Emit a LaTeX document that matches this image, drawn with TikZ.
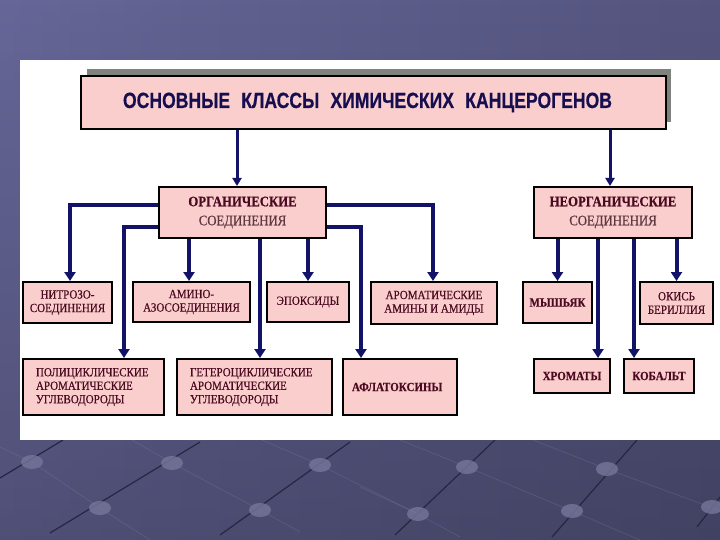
\documentclass[tikz,border=0pt]{standalone}
\usepackage{graphicx}
\usepackage{fontspec}
\setmainfont{Liberation Serif}
\newfontfamily\bxf[FakeStretch=0.88,FakeBold=0.5]{Liberation Serif}
\newfontfamily\ttlf[FakeBold=0.6]{Liberation Sans}
\usetikzlibrary{arrows.meta,fadings}
\definecolor{bgL}{RGB}{102,102,152}
\definecolor{bgR}{RGB}{84,84,126}
\definecolor{boxpink}{RGB}{251,206,206}
\definecolor{navy}{RGB}{18,18,105}
\definecolor{txt}{RGB}{75,10,32}
\definecolor{txtb}{RGB}{95,55,65}
\definecolor{ttl}{RGB}{22,14,78}
\definecolor{shadowgray}{RGB}{128,130,126}
\definecolor{darkln}{RGB}{38,38,66}
\definecolor{lightln}{RGB}{135,135,175}
\definecolor{dotc}{RGB}{118,118,155}
\tikzset{
  box/.style={draw=black, line width=2pt, fill=boxpink, inner sep=0pt,
    font=\bxf\fontsize{12.5}{13.5}\selectfont, text=txt, align=center},
  lbox/.style={box, align=left},
  arr/.style={draw=navy, line width=4pt, line join=miter, -{Triangle[length=9pt,width=11pt]}},
  tarr/.style={draw=navy, line width=3pt, -{Triangle[length=8pt,width=9pt]}},
  dotst/.style={fill=dotc, opacity=0.8},
}
\begin{document}
\begin{tikzpicture}[x=1pt,y=-1pt]
\useasboundingbox (0,0) rectangle (720,540);
% background
\shade[left color=bgL, right color=bgR] (0,0) rectangle (720,540);
\fill[black, opacity=0.22, path fading=north] (0,0) rectangle (720,540);
% decoration: light lines
\begin{scope}[draw=lightln, line width=0.6pt, opacity=0.3]
\draw (0,447) -- (32,462) -- (100,508) -- (150,540);
\draw (132,440) -- (172,463) -- (260,510) -- (300,532);
\draw (262,440) -- (320,465) -- (418,514) -- (460,537);
\draw (400,440) -- (467,467) -- (572,511) -- (640,540);
\draw (533,440) -- (607,469) -- (710,507) -- (720,511);
\draw (360,487) -- (418,514);
\end{scope}
% decoration: dark lines
\begin{scope}[draw=darkln, line width=1.2pt]
\draw (0,478) -- (63,440);
\draw (50,533) -- (200,442);
\draw (220,535) -- (350,442);
\draw (395,535) -- (495,440);
\draw (552,537) -- (637,440);
\draw (697,527) -- (720,497);
\end{scope}
\foreach \p in {(32,462),(172,463),(320,465),(467,467),(607,469),(100,508),(260,510),(418,514),(572,511),(712,507)}
  \fill[dotst] \p ellipse [x radius=11, y radius=7];
% white panel
\fill[white] (20,60) rectangle (720,440);
% title
\fill[shadowgray] (87,69) rectangle (671,122);
\node[box, minimum width=585pt, minimum height=53pt, text=ttl] (title) at (373.5,102.5)
  {\resizebox{489pt}{\height}{\ttlf\bfseries\fontsize{22}{22}\selectfont ОСНОВНЫЕ\hspace{14pt}КЛАССЫ\hspace{14pt}ХИМИЧЕСКИХ\hspace{14pt}КАНЦЕРОГЕНОВ}\hspace*{12pt}};
% level 2
\node[box, minimum width=167pt, minimum height=51pt, font=\bxf\fontsize{14.5}{19}\selectfont] (org) at (242.5,212.5)
  {\bfseries ОРГАНИЧЕСКИЕ\\ \textcolor{txtb}{СОЕДИНЕНИЯ}};
\node[box, minimum width=158pt, minimum height=51pt, font=\bxf\fontsize{14.5}{19}\selectfont] (inorg) at (613,212.5)
  {\bfseries НЕОРГАНИЧЕСКИЕ\\ \textcolor{txtb}{СОЕДИНЕНИЯ}};
% level 3 top row
\node[box, minimum width=89pt, minimum height=41pt] (nitroso) at (67.5,302.5) {НИТРОЗО-\\СОЕДИНЕНИЯ};
\node[box, minimum width=117pt, minimum height=40pt] (amino) at (191.5,302) {АМИНО-\\АЗОСОЕДИНЕНИЯ};
\node[box, minimum width=82pt, minimum height=40pt] (epox) at (308,302) {ЭПОКСИДЫ};
\node[box, minimum width=126pt, minimum height=42pt] (aromam) at (434,303) {АРОМАТИЧЕСКИЕ\\АМИНЫ И АМИДЫ};
\node[box, minimum width=69pt, minimum height=41pt] (mysh) at (557.5,302.5) {\bfseries МЫШЬЯК};
\node[box, minimum width=73pt, minimum height=42pt] (beryl) at (676.5,303) {ОКИСЬ\\БЕРИЛЛИЯ};
% level 3 bottom row
\node[lbox, minimum width=141pt, minimum height=56pt, text width=115pt] (poly) at (93.5,387)
  {ПОЛИЦИКЛИЧЕСКИЕ\\АРОМАТИЧЕСКИЕ\\УГЛЕВОДОРОДЫ};
\node[lbox, minimum width=155pt, minimum height=56pt, text width=129pt] (hetero) at (254.5,387)
  {ГЕТЕРОЦИКЛИЧЕСКИЕ\\АРОМАТИЧЕСКИЕ\\УГЛЕВОДОРОДЫ};
\node[lbox, minimum width=114pt, minimum height=56pt, text width=96pt] (aflat) at (400,387)
  {\bfseries АФЛАТОКСИНЫ};
\node[box, minimum width=76pt, minimum height=34pt] (chrom) at (572,376) {\bfseries ХРОМАТЫ};
\node[box, minimum width=70pt, minimum height=34pt] (cobalt) at (659,376) {\bfseries КОБАЛЬТ};
% connectors from title
\coordinate (t1) at (237,0);
\coordinate (t2) at (610,0);
\draw[tarr] (title.south -| t1) -- (org.north -| t1);
\draw[tarr] (title.south -| t2) -- (inorg.north -| t2);
% connectors from organic
\draw[arr] ([yshift=7.5pt]org.west) -| ([xshift=2.5pt]nitroso.north);
\draw[arr] ([yshift=7.5pt]org.east) -| ([xshift=-1pt]aromam.north);
\draw[arr] ([yshift=-14.5pt]org.west) -| ([xshift=30.5pt]poly.north);
\draw[arr] ([yshift=-14.5pt]org.east) -| ([xshift=-39pt]aflat.north);
\draw[arr] ([xshift=-2.5pt]org.south -| amino.north) -- ([xshift=-2.5pt]amino.north);
\draw[arr] ([xshift=5.5pt]org.south -| hetero.north) -- ([xshift=5.5pt]hetero.north);
\draw[arr] (org.south -| epox.north) -- (epox.north);
% connectors from inorganic
\draw[arr] (inorg.south -| mysh.north) -- (mysh.north);
\draw[arr] ([xshift=26pt]inorg.south -| chrom.north) -- ([xshift=26pt]chrom.north);
\draw[arr] ([xshift=-25pt]inorg.south -| cobalt.north) -- ([xshift=-25pt]cobalt.north);
\draw[arr] (inorg.south -| beryl.north) -- (beryl.north);
\end{tikzpicture}
\end{document}
